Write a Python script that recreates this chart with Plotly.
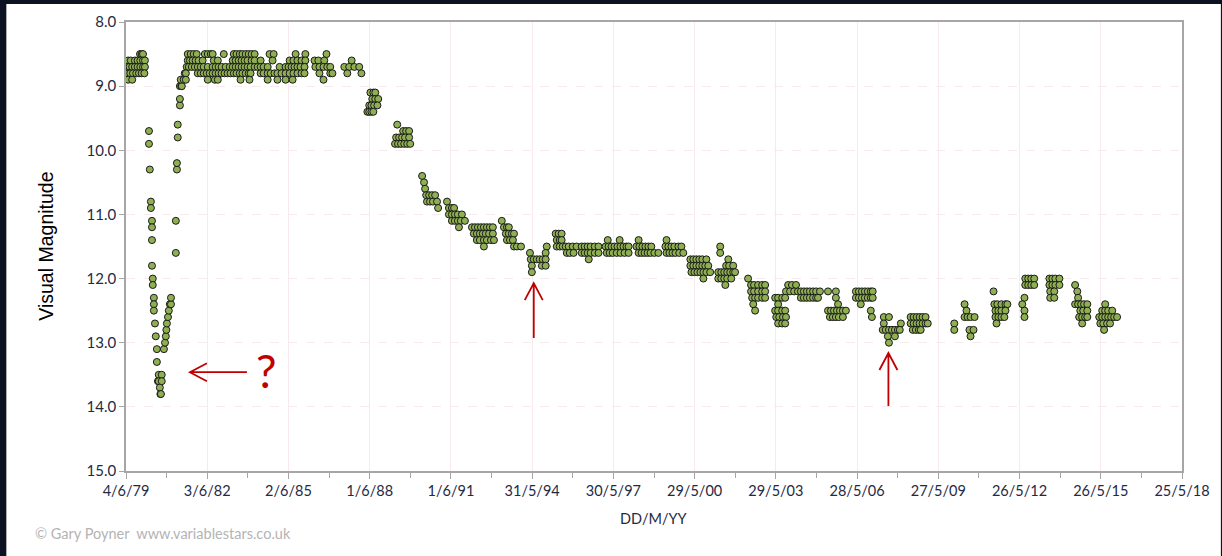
import datetime
import pandas as pd
import plotly.graph_objects as go

# visual estimates, grouped by magnitude row -> decimal years
rows_1979_1988 = {
    8.5: [1979.94, 1980.00, 1980.05, 1981.70, 1981.81, 1981.92, 1982.03, 1982.33, 1982.44, 1982.55, 1982.62,
          1983.03, 1983.40, 1983.50, 1983.62, 1983.72, 1983.84, 1983.95, 1984.06, 1984.17, 1984.72, 1984.87,
          1985.68, 1986.04, 1986.82],
    8.6: [1979.50, 1979.60, 1979.75, 1979.85, 1979.95, 1980.05, 1980.12, 1981.70, 1981.78, 1981.88, 1981.99,
          1982.10, 1982.25, 1982.66, 1982.81, 1983.36, 1983.47, 1983.58, 1983.69, 1983.80, 1983.91, 1984.06,
          1984.17, 1984.39, 1984.83, 1985.46, 1985.60, 1985.75, 1985.90, 1986.04, 1986.38, 1986.52, 1986.74,
          1987.75],
    8.7: [1979.45, 1979.55, 1979.65, 1979.75, 1979.85, 1979.95, 1980.05, 1980.12, 1981.66, 1981.74, 1981.85,
          1981.96, 1982.07, 1982.18, 1982.29, 1982.44, 1982.62, 1982.73, 1982.84, 1982.95, 1983.10, 1983.25,
          1983.36, 1983.47, 1983.58, 1983.69, 1983.80, 1983.91, 1984.02, 1984.17, 1984.28, 1984.39, 1984.50,
          1984.65, 1985.09, 1985.31, 1985.42, 1985.53, 1985.64, 1985.75, 1985.86, 1986.01, 1986.41, 1986.56,
          1986.71, 1986.85, 1986.96, 1987.48, 1987.66, 1987.85, 1988.03],
    8.8: [1979.42, 1979.50, 1979.58, 1979.68, 1979.80, 1979.90, 1980.00, 1980.10, 1981.59, 1981.63, 1982.07,
          1982.18, 1982.29, 1982.40, 1982.51, 1982.62, 1982.73, 1982.84, 1982.95, 1983.06, 1983.17, 1983.28,
          1983.40, 1983.50, 1983.62, 1983.72, 1983.84, 1983.95, 1984.02, 1984.39, 1984.50, 1984.65, 1984.76,
          1984.90, 1985.01, 1985.16, 1985.31, 1985.46, 1985.60, 1985.75, 1985.90, 1986.01, 1986.56, 1986.96,
          1987.04, 1987.59, 1988.11],
    8.9: [1979.50, 1979.65, 1981.44, 1981.55, 1981.63, 1982.44, 1982.70, 1982.81, 1983.65, 1983.98, 1984.65,
          1985.01, 1985.31, 1985.57, 1986.71],
}

# the 1980 fade and recovery
dip_years = [1980.27, 1980.27, 1980.30, 1980.34, 1980.34, 1980.38, 1980.38, 1980.38, 1980.38, 1980.41,
             1980.41, 1980.45, 1980.45, 1980.45, 1980.49, 1980.52, 1980.56, 1980.56, 1980.60, 1980.63,
             1980.63, 1980.67, 1980.69, 1980.71, 1980.74, 1980.74,
             1980.82, 1980.86, 1980.89, 1980.91, 1980.93, 1980.97, 1981.00, 1981.04, 1981.08, 1981.08,
             1981.26, 1981.26, 1981.30, 1981.30, 1981.33, 1981.33, 1981.41, 1981.41, 1981.41, 1981.46, 1981.48]
dip_mags = [9.7, 9.9, 10.3, 10.8, 10.9, 11.1, 11.2, 11.4, 11.8, 12.0,
            12.1, 12.3, 12.4, 12.5, 12.7, 12.9, 13.1, 13.3, 13.6, 13.5,
            13.6, 13.7, 13.8, 13.8, 13.5, 13.6,
            13.1, 13.0, 12.9, 12.8, 12.7, 12.6, 12.5, 12.4, 12.4, 12.3,
            11.6, 11.1, 10.3, 10.2, 9.8, 9.6, 9.3, 9.2, 9.0, 9.0, 9.0]

rows_1988_1994 = {
    9.1: [1988.44, 1988.55, 1988.62],
    9.2: [1988.51, 1988.62, 1988.73],
    9.3: [1988.40, 1988.48, 1988.58, 1988.70],
    9.4: [1988.33, 1988.40, 1988.48, 1988.55],
    9.6: [1989.43],
    9.7: [1989.65, 1989.76, 1989.87],
    9.8: [1989.39, 1989.50, 1989.61, 1989.72, 1989.87],
    9.9: [1989.35, 1989.46, 1989.57, 1989.69, 1989.80, 1989.91],
    10.4: [1990.35],
    10.5: [1990.42],
    10.6: [1990.46],
    10.7: [1990.50, 1990.61, 1990.72, 1990.83],
    10.8: [1990.53, 1990.64, 1990.75, 1990.90, 1991.27],
    10.9: [1990.94, 1991.34, 1991.45, 1991.53],
    11.0: [1991.34, 1991.45, 1991.56, 1991.67, 1991.82],
    11.1: [1991.45, 1991.56, 1991.67, 1991.78, 1991.93, 1993.29],
    11.2: [1991.71, 1992.19, 1992.30, 1992.41, 1992.52, 1992.63, 1992.74, 1992.85, 1992.96, 1993.37, 1993.48,
           1993.55],
    11.3: [1992.26, 1992.37, 1992.48, 1992.59, 1992.70, 1992.82, 1992.96, 1993.44, 1993.55, 1993.66, 1993.74],
    11.4: [1992.37, 1992.48, 1992.63, 1992.74, 1992.89, 1993.00, 1993.48, 1993.59, 1993.70],
    11.5: [1992.63, 1993.74, 1993.85, 1994.00],
}

rows_1994_2002 = {
    11.3: [1995.28, 1995.39, 1995.50],
    11.4: [1995.32, 1995.43, 1995.50, 1997.20, 1997.64, 1998.34, 1999.37],
    11.5: [1994.95, 1995.32, 1995.43, 1995.54, 1995.65, 1995.76, 1995.91, 1996.05, 1996.24, 1996.35, 1996.46,
           1996.57, 1996.72, 1996.86, 1997.12, 1997.23, 1997.34, 1997.45, 1997.56, 1997.67, 1997.78, 1997.89,
           1997.97, 1998.26, 1998.37, 1998.48, 1998.59, 1998.70, 1998.81, 1999.33, 1999.44, 1999.55, 1999.66,
           1999.81, 1999.92, 2001.35],
    11.6: [1994.33, 1994.91, 1995.69, 1995.80, 1995.94, 1996.24, 1996.35, 1996.46, 1996.57, 1996.72, 1996.86,
           1997.16, 1997.27, 1997.38, 1997.53, 1997.67, 1997.82, 1997.97, 1998.34, 1998.45, 1998.56, 1998.67,
           1998.78, 1998.92, 1999.07, 1999.37, 1999.48, 1999.59, 1999.70, 1999.84, 1999.99, 2001.35],
    11.7: [1994.36, 1994.47, 1994.58, 1994.69, 1994.80, 1994.91, 1996.50, 2000.25, 2000.36, 2000.47, 2000.58,
           2000.69, 2000.84, 2001.65],
    11.8: [1994.40, 1994.77, 1994.91, 2000.25, 2000.36, 2000.47, 2000.58, 2000.69, 2000.80, 2000.91, 2001.57,
           2001.68, 2001.83],
    11.9: [1994.40, 2000.29, 2000.40, 2000.51, 2000.62, 2000.73, 2000.84, 2000.98, 2001.28, 2001.39, 2001.50,
           2001.61, 2001.72, 2001.83, 2001.90],
    12.0: [2000.73, 2001.28, 2001.39, 2001.50, 2001.61, 2001.76],
    12.1: [2001.54],
}

rows_2002_2016 = {
    12.0: [2002.38, 2012.61, 2012.72, 2012.83, 2012.94, 2013.50, 2013.61, 2013.72, 2013.87],
    12.1: [2002.49, 2002.60, 2002.75, 2002.90, 2003.01, 2003.86, 2004.00, 2004.15, 2012.61, 2012.72, 2012.83,
           2012.94, 2013.50, 2013.61, 2013.72, 2013.87, 2014.45],
    12.2: [2002.49, 2002.60, 2002.75, 2002.90, 2003.01, 2003.78, 2003.93, 2004.08, 2004.22, 2004.33, 2004.44,
           2004.55, 2004.66, 2004.78, 2004.89, 2005.03, 2005.33, 2005.62, 2006.36, 2006.47, 2006.58, 2006.69,
           2006.80, 2006.91, 2006.98, 2011.44, 2013.53, 2013.68, 2014.53],
    12.3: [2002.53, 2002.64, 2002.75, 2002.90, 2003.01, 2003.38, 2003.49, 2003.64, 2003.75, 2004.33, 2004.44,
           2004.55, 2004.66, 2004.78, 2004.89, 2004.96, 2005.62, 2006.36, 2006.47, 2006.58, 2006.69, 2006.80,
           2006.91, 2006.98, 2012.58, 2013.53, 2013.68, 2014.56],
    12.4: [2002.57, 2003.49, 2005.70, 2006.54, 2010.37, 2011.47, 2011.58, 2011.73, 2011.88, 2011.95, 2012.50,
           2014.45, 2014.56, 2014.67, 2014.78, 2014.90, 2015.56],
    12.5: [2002.64, 2003.38, 2003.49, 2003.64, 2003.75, 2005.33, 2005.44, 2005.55, 2005.66, 2005.77, 2005.88,
           2005.99, 2006.91, 2010.44, 2011.51, 2011.62, 2011.73, 2011.88, 2012.58, 2014.64, 2014.75, 2014.90,
           2015.45, 2015.56, 2015.67, 2015.82],
    12.6: [2003.42, 2003.53, 2003.67, 2003.78, 2005.40, 2005.51, 2005.62, 2005.73, 2005.88, 2006.95, 2007.39,
           2007.58, 2008.38, 2008.49, 2008.60, 2008.71, 2008.82, 2008.93, 2010.37, 2010.48, 2010.59, 2010.74,
           2011.51, 2011.62, 2011.73, 2011.84, 2012.58, 2014.60, 2014.71, 2014.82, 2014.90, 2015.34, 2015.45,
           2015.56, 2015.67, 2015.78, 2015.89, 2016.00],
    12.7: [2003.49, 2003.64, 2003.75, 2007.39, 2008.02, 2008.38, 2008.49, 2008.60, 2008.71, 2008.82, 2008.93,
           2009.01, 2009.99, 2011.55, 2014.71, 2015.38, 2015.49, 2015.63, 2015.74],
    12.8: [2007.35, 2007.46, 2007.58, 2007.69, 2007.80, 2007.91, 2007.98, 2008.46, 2008.57, 2008.68, 2008.75,
           2009.99, 2010.55, 2010.70, 2015.52],
    12.9: [2007.54, 2007.80, 2010.59],
    13.0: [2007.58],
}

tick_dates = ["1979-06-04", "1982-06-03", "1985-06-02", "1988-06-01", "1991-06-01", "1994-05-31",
              "1997-05-30", "2000-05-29", "2003-05-29", "2006-05-28", "2009-05-27", "2012-05-26",
              "2015-05-26", "2018-05-25"]
tick_labels = ["4/6/79", "3/6/82", "2/6/85", "1/6/88", "1/6/91", "31/5/94", "30/5/97", "29/5/00",
               "29/5/03", "28/5/06", "27/5/09", "26/5/12", "26/5/15", "25/5/18"]
mag_ticks = [8, 9, 10, 11, 12, 13, 14, 15]


def year_to_date(y):
    yr = int(y)
    start = datetime.datetime(yr, 1, 1)
    return start + (datetime.datetime(yr + 1, 1, 1) - start) * (y - yr)


years, mags = list(dip_years), list(dip_mags)
for rows in (rows_1979_1988, rows_1988_1994, rows_1994_2002, rows_2002_2016):
    for mag, ys in rows.items():
        years += ys
        mags += [mag] * len(ys)
dates = [year_to_date(y) for y in years]

tick_ts = pd.to_datetime(tick_dates)
minor_vals = [a + (b - a) / 2 for a, b in zip(tick_ts[:-1], tick_ts[1:])]

ink = '#1f2a44'
grid = '#f7e9ec'
axis_grey = '#a6a6a6'
red = '#c00000'

fig = go.Figure()
fig.add_trace(go.Scatter(x=dates, y=mags, mode='markers',
                         marker=dict(size=7, color='#8fb052', line=dict(color='#1a1a1a', width=1)),
                         showlegend=False, hoverinfo='skip'))

# L = left margin, T = top margin; helpers to place decorations in paper units
W, H, L, R, T, B = 1222, 556, 126, 37, 22, 85
PW, PH = W - L - R, H - T - B


def px(x):
    return (x - L) / PW


def py(y):
    return (H - B - y) / PH


# dark screenshot edge behind a white card
fig.add_shape(type='rect', xref='paper', yref='paper', x0=px(6), x1=px(W + 2), y0=py(H + 2), y1=py(4),
              fillcolor='white', line=dict(width=0), layer='below')

# red arrows anchored at the features they point to
arrows = [
    (1981.78, 13.46, 'M17,9 L0,0 L17,-9 M0,0 L57,0'),
    (1994.47, 12.07, 'M-9,-17 L0,0 L9,-17 M0,0 L0,-55'),
    (2007.56, 13.16, 'M-9,-17 L0,0 L9,-17 M0,0 L0,-53'),
]
for ax_year, ax_mag, path in arrows:
    fig.add_shape(type='path', xref='x', yref='y', xsizemode='pixel', ysizemode='pixel',
                  xanchor=year_to_date(ax_year), yanchor=ax_mag, path=path,
                  line=dict(color=red, width=1.8))

fig.add_annotation(x=year_to_date(1984.61), y=13.43, text='?', showarrow=False,
                   font=dict(family='Lato', size=46, color=red))

fig.add_annotation(x=px(45), y=0.5, xref='paper', yref='paper', xanchor='center', yanchor='middle',
                   text='Visual Magnitude', textangle=-90, showarrow=False,
                   font=dict(family='Liberation Sans', size=19.5, color='black'))
fig.add_annotation(x=0.5, y=py(518), xref='paper', yref='paper', xanchor='center', yanchor='middle',
                   text='DD/M/YY', showarrow=False,
                   font=dict(family='Lato', size=14.5, color=ink))
fig.add_annotation(x=px(33), y=py(533), xref='paper', yref='paper', xanchor='left', yanchor='middle',
                   text='© Gary Poyner  www.variablestars.co.uk', showarrow=False,
                   font=dict(family='Lato', size=14.5, color='#b4b4b4'))

fig.update_xaxes(type='date', range=[tick_ts[0], tick_ts[-1]],
                 tickmode='array', tickvals=tick_ts, ticktext=tick_labels,
                 ticks='outside', ticklen=6, tickcolor=axis_grey,
                 minor=dict(tickmode='array', tickvals=minor_vals, ticks='outside', ticklen=5,
                            tickcolor=axis_grey, showgrid=False),
                 showgrid=True, gridcolor=grid, gridwidth=1,
                 showline=True, linecolor=axis_grey, linewidth=1.5, mirror=True,
                 tickfont=dict(family='Lato', size=14.5, color=ink), zeroline=False)
fig.update_yaxes(range=[15, 8], tickmode='array', tickvals=mag_ticks, tickformat='.1f',
                 ticks='outside', ticklen=5, tickcolor=axis_grey,
                 showgrid=True, gridcolor=grid, griddash='dash', gridwidth=1,
                 showline=True, linecolor=axis_grey, linewidth=1.5, mirror=True,
                 tickfont=dict(family='Lato', size=15, color=ink), zeroline=False)

fig.update_layout(width=W, height=H, autosize=False,
                  margin=dict(l=L, r=R, t=T, b=B),
                  paper_bgcolor='#0c1222', plot_bgcolor='white',
                  font=dict(family='Lato'))

fig.write_html("out.html", config={'displayModeBar': False},
               post_script="document.body.style.margin = '0';")
